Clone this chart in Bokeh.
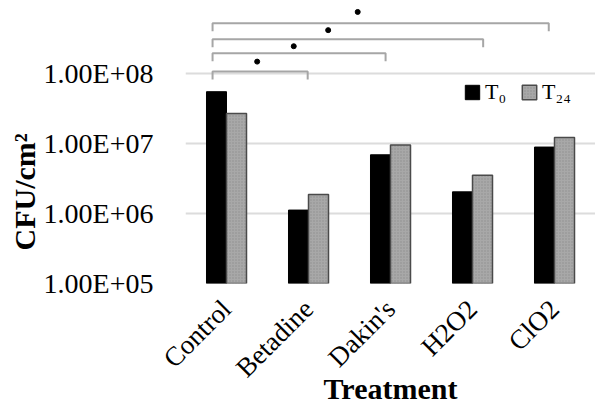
import math
from bokeh.plotting import figure
from bokeh.models import Range1d, FixedTicker, Title, Legend, LegendItem, ColumnDataSource
from bokeh.embed import file_html
from bokeh.resources import INLINE

categories = ["Control", "Betadine", "Dakin's", "H2O2", "ClO2"]
t0_values = [5.5e7, 1.12e6, 6.9e6, 2.04e6, 8.9e6]
t24_values = [2.68e7, 1.87e6, 9.5e6, 3.53e6, 1.22e7]
y_ticks = [1e5, 1e6, 1e7, 1e8]
y_tick_labels = ["1.00E+05", "1.00E+06", "1.00E+07", "1.00E+08"]
comparisons = [("Control", "Betadine"), ("Control", "Dakin's"), ("Control", "H2O2"), ("Control", "ClO2")]

SERIF = "Liberation Serif"

p = figure(width=595, height=408, output_backend="svg", toolbar_location=None,
           y_axis_type="log", x_range=Range1d(0, 5), y_range=Range1d(1e5, 10 ** 8.929),
           min_border_left=185, min_border_right=0, min_border_top=8, min_border_bottom=125)
p.outline_line_color = None
p.background_fill_color = "white"
p.border_fill_color = "white"

centers = [i + 0.5 for i in range(len(categories))]
bw = 0.244
src = ColumnDataSource(dict(
    x0=[c - bw / 2 for c in centers], x1=[c + bw / 2 for c in centers],
    t0=t0_values, t24=t24_values, bottom=[1e5] * len(categories)))

r0 = p.vbar(x="x0", top="t0", bottom="bottom", width=bw, source=src,
            fill_color="black", line_color="black", line_width=1)
r1 = p.vbar(x="x1", top="t24", bottom="bottom", width=bw, source=src,
            fill_color="#a8a8a8", line_color="#4a4a4a", line_width=1.5,
            hatch_pattern=".", hatch_color="#7a7a7a", hatch_scale=3, hatch_weight=1, hatch_alpha=0.6)

# significance brackets
idx = {c: i for i, c in enumerate(categories)}
left_shift = -0.17
right_shift = [-0.01, -0.06, 0.13, -0.07]
bracket_levels = [8.03, 8.29, 8.49, 8.718]
dot_x = [0.874, 1.32, 1.74, 2.10]
dot_levels = [8.17, 8.39, 8.62, 8.88]
xs, ys = [], []
for (a, b), rs, lv in zip(comparisons, right_shift, bracket_levels):
    xa = centers[idx[a]] + left_shift
    xb = centers[idx[b]] + rs
    top = 10 ** lv
    low = 10 ** (lv - 0.115)
    xs.append([xa, xa, xb, xb])
    ys.append([low, top, top, low])
p.multi_line(xs, ys, line_color="#a6a6a6", line_width=2)
p.scatter(dot_x, [10 ** v for v in dot_levels], size=5, color="black")

# axes
p.xaxis.ticker = FixedTicker(ticks=centers)
p.xaxis.major_label_overrides = {c: n for c, n in zip(centers, categories)}
p.xaxis.major_label_orientation = math.pi / 4
p.yaxis.ticker = FixedTicker(ticks=y_ticks)
p.yaxis.major_label_overrides = {t: l for t, l in zip(y_ticks, y_tick_labels)}
for ax in (p.xaxis, p.yaxis):
    ax.axis_line_color = None
    ax.major_tick_line_color = None
    ax.minor_tick_line_color = None
    ax.major_label_text_font = SERIF
    ax.major_label_text_color = "black"
p.xaxis.major_label_text_font_size = "27px"
p.yaxis.major_label_text_font_size = "28px"
p.yaxis.major_label_standoff = 26
p.xaxis.major_label_standoff = 15
p.xgrid.grid_line_color = None
p.ygrid.grid_line_color = "#dcdcdc"
p.ygrid.grid_line_width = 2

p.xaxis.axis_label = "Treatment"
p.xaxis.axis_label_standoff = -25
p.xaxis.axis_label_text_font = SERIF
p.xaxis.axis_label_text_font_size = "30px"
p.xaxis.axis_label_text_font_style = "bold"
p.xaxis.axis_label_text_color = "black"

p.add_layout(Title(text="CFU/cm²", align="left", offset=33, standoff=0,
                   text_font=SERIF, text_font_size="30px", text_font_style="bold",
                   text_color="black"), "left")

legend = Legend(items=[LegendItem(label="T₀", renderers=[r0]), LegendItem(label="T₂₄", renderers=[r1])],
                orientation="horizontal", location=(278, 178),
                glyph_width=18, glyph_height=18, label_text_font=SERIF, label_text_color="black",
                label_text_font_size="22px", label_standoff=4, spacing=14,
                padding=0, margin=0, border_line_color=None, background_fill_alpha=0)
p.add_layout(legend, "center")

open("out.html", "w").write(file_html(p, INLINE))
